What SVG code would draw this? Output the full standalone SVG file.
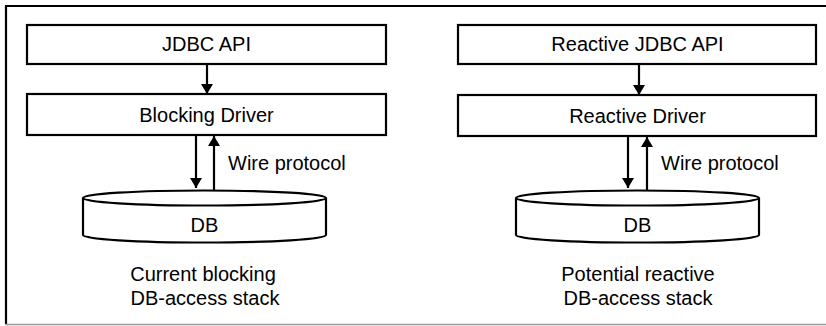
<svg xmlns="http://www.w3.org/2000/svg" width="826" height="326" viewBox="0 0 826 326">
<defs>
<style>
.box{fill:#fff;stroke:#000;stroke-width:2.2}
.cyl{fill:#fff;stroke:#000;stroke-width:2.2}
.t{font-family:"Liberation Sans",Arial,sans-serif;font-size:20px;fill:#000;text-anchor:middle}
.tl{font-family:"Liberation Sans",Arial,sans-serif;font-size:20px;fill:#000;text-anchor:start}
.ln{stroke:#000;stroke-width:2.2;fill:none}
</style>
<marker id="ah" viewBox="0 0 10 12" refX="10" refY="6" markerWidth="10" markerHeight="12" markerUnits="userSpaceOnUse" orient="auto">
<path d="M0,0 L10,6 L0,12 z" fill="#000"/>
</marker>
</defs>
<rect width="826" height="326" fill="#fff"/>
<g id="frame">
<path d="M6,324 L6,6 L826,6" class="ln"/>
<line x1="5" y1="324.5" x2="826" y2="324.5" stroke="#999" stroke-width="1.5"/>
</g>
<g id="jdbc-api">
<rect class="box" x="27" y="25" width="359" height="39"/>
<text class="t" x="206.5" y="51">JDBC API</text>
</g>
<g id="blocking-driver">
<rect class="box" x="27" y="94" width="359" height="41"/>
<text class="t" x="206.5" y="122">Blocking Driver</text>
</g>
<g id="db-left">
<path class="cyl" d="M83,198 L83,235 A121.5,7.5 0 0 0 326,235 L326,198"/>
<ellipse class="cyl" cx="204.5" cy="198" rx="121.5" ry="7.5"/>
<text class="t" x="204.5" y="232">DB</text>
</g>
<g id="caption-left">
<text class="t" x="203" y="281">Current blocking</text>
<text class="t" x="205" y="305">DB-access stack</text>
</g>
<g id="reactive-jdbc-api">
<rect class="box" x="458" y="25" width="358" height="39"/>
<text class="t" x="637.5" y="51">Reactive JDBC API</text>
</g>
<g id="reactive-driver">
<rect class="box" x="458" y="95" width="358" height="41"/>
<text class="t" x="637.5" y="123">Reactive Driver</text>
</g>
<g id="db-right">
<path class="cyl" d="M516,198 L516,235 A121.5,7.5 0 0 0 759,235 L759,198"/>
<ellipse class="cyl" cx="637.5" cy="198" rx="121.5" ry="7.5"/>
<text class="t" x="637.5" y="232">DB</text>
</g>
<g id="caption-right">
<text class="t" x="638" y="281">Potential reactive</text>
<text class="t" x="638" y="305">DB-access stack</text>
</g>
<g id="connectors">
<line class="ln" x1="207" y1="64" x2="207" y2="94" marker-end="url(#ah)"/>
<line class="ln" x1="196" y1="135" x2="196" y2="188" marker-end="url(#ah)"/>
<line class="ln" x1="214" y1="190.5" x2="214" y2="136" marker-end="url(#ah)"/>
<text class="tl" x="228" y="170">Wire protocol</text>
<line class="ln" x1="639" y1="64" x2="639" y2="95" marker-end="url(#ah)"/>
<line class="ln" x1="628" y1="136" x2="628" y2="188" marker-end="url(#ah)"/>
<line class="ln" x1="647" y1="190.5" x2="647" y2="137" marker-end="url(#ah)"/>
<text class="tl" x="661" y="170">Wire protocol</text>
</g>
</svg>
